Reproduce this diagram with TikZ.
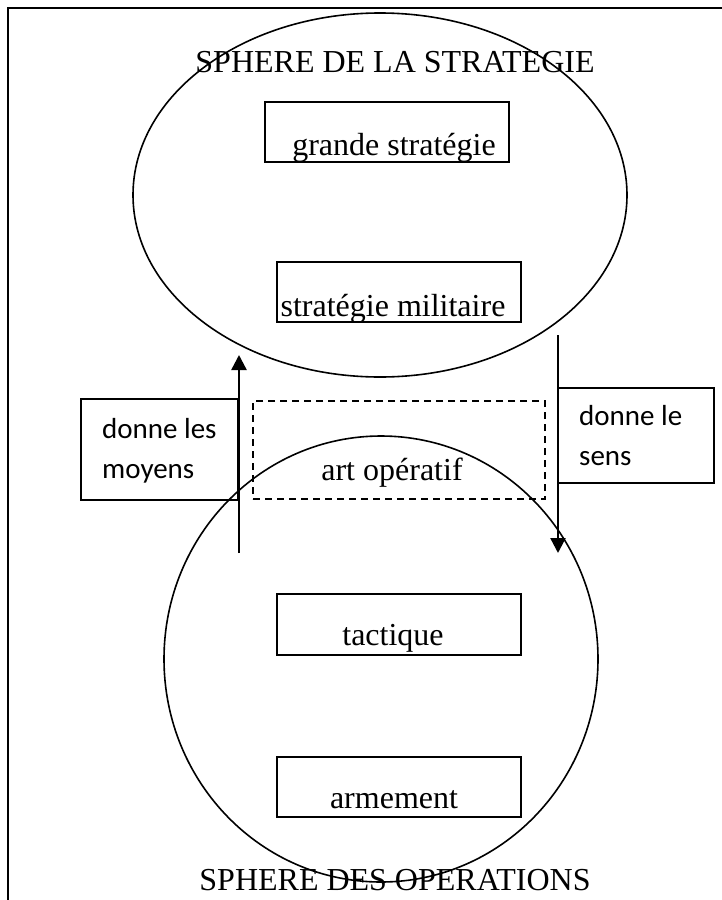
\documentclass[tikz,border=0pt]{standalone}
\usepackage{fontspec}
\setmainfont{Liberation Serif}
\newfontfamily\calibri{Carlito}
\usetikzlibrary{arrows.meta,shapes.geometric}
\tikzset{
  frameline/.style={line width=2pt},
  sphere/.style={draw, ellipse, line width=1.6pt, inner sep=0pt},
  boxnode/.style={draw, rectangle, line width=1.6pt, inner sep=0pt},
  dashbox/.style={draw, rectangle, dashed, dash pattern=on 7pt off 5pt, line width=1.4pt, inner sep=0pt},
  lbl/.style={inner sep=0pt, anchor=base, font=\fontsize{32}{38}\selectfont},
  side/.style={inner sep=0pt, anchor=base west, font=\calibri\fontsize{29}{40}\selectfont},
  arr/.style={line width=2.4pt, -{Triangle[width=15pt,length=15pt]}}
}
\begin{document}
\begin{tikzpicture}[x=1pt,y=-1pt]
\useasboundingbox (0,0) rectangle (721,900);
% frame
\draw[frameline] (8,910) -- (8,8) -- (730,8);
% spheres
\node[sphere, minimum width=494pt, minimum height=364pt] (up) at (380,195) {};
\node[sphere, minimum width=434pt, minimum height=446pt] (low) at (381,659) {};
% boxes
\node[boxnode, minimum width=244pt, minimum height=60pt] (gs) at (387,132) {};
\node[boxnode, minimum width=244pt, minimum height=60pt] (sm) at (399,292) {};
\node[dashbox, minimum width=292pt, minimum height=98pt] (ao) at (399,450) {};
\node[boxnode, minimum width=244pt, minimum height=61pt] (ta) at (399,624.5) {};
\node[boxnode, minimum width=244pt, minimum height=60pt] (ar) at (399,787) {};
\node[boxnode, minimum width=157pt, minimum height=101pt] (mb) at (159.5,449.5) {};
\node[boxnode, minimum width=156pt, minimum height=95pt] (sb) at (636,435.5) {};
% texts
\node[lbl] (t1) at (395,72) {SPHERE DE LA STRATEGIE};
\node[lbl] (t2) at (395,890) {SPHERE DES OPERATIONS};
\node[lbl] (gst) at (394,155) {grande stratégie};
\node[lbl] (smt) at (393,316) {stratégie militaire};
\node[lbl] (aot) at (392,480) {art opératif};
\node[lbl] (tat) at (393,645) {tactique};
\node[lbl] (art) at (394,808) {armement};
\node[side] (m1) at (102,438) {donne les};
\node[side] (m2) at (102,478) {moyens};
\node[side] (s1) at (579,425) {donne le};
\node[side] (s2) at (579,465) {sens};
% arrows
\coordinate (lb) at (239,553);
\coordinate (lt) at (239,355);
\coordinate (rt) at (558,335);
\coordinate (rb) at (558,553);
\draw[arr] (lb) -- (lt);
\draw[arr] (rt) -- (rb);
\end{tikzpicture}
\end{document}
